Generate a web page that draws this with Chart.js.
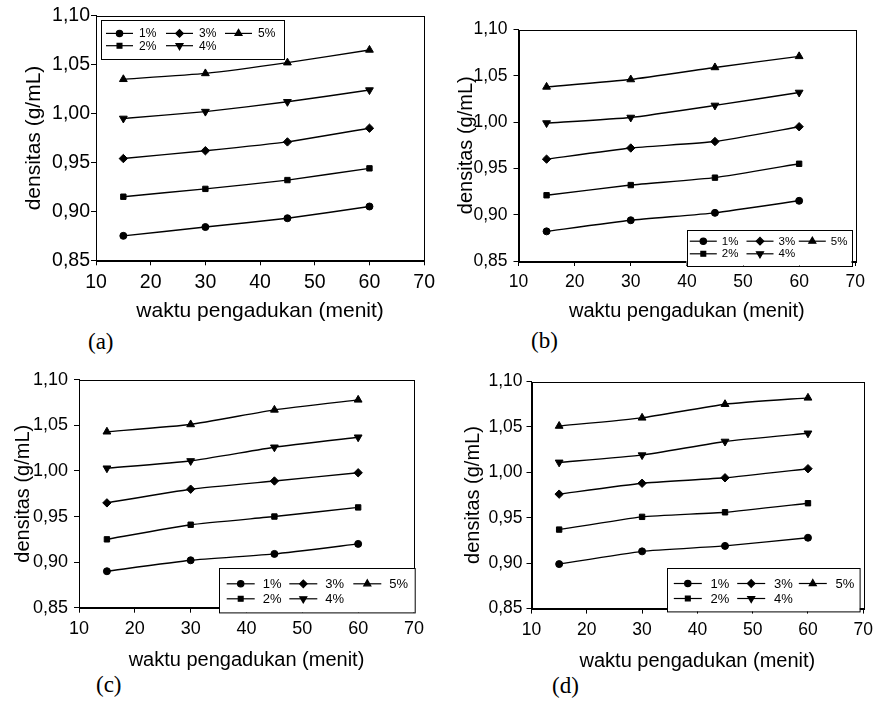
<!DOCTYPE html>
<html><head><meta charset="utf-8">
<script src="https://cdn.jsdelivr.net/npm/chart.js@4.4.0/dist/chart.umd.min.js"></script>
<style>
html,body{margin:0;padding:0;background:#fff}
body{width:875px;height:702px;position:relative;overflow:hidden}
canvas{position:absolute}
.lab{position:absolute;font-family:"Liberation Serif","Times New Roman",serif;font-size:23px;line-height:24px;color:#000}
</style></head><body>
<div class="lab" style="left:88px;top:330px">(a)</div>
<div class="lab" style="left:531px;top:329px">(b)</div>
<div class="lab" style="left:96px;top:673px">(c)</div>
<div class="lab" style="left:552px;top:674px">(d)</div>
<canvas id="cA"></canvas><canvas id="cB"></canvas><canvas id="cC"></canvas><canvas id="cD"></canvas>
<script>
// ---- data ----
const xValues = [15, 30, 45, 60];
const seriesLabels = ['1%', '2%', '3%', '4%', '5%'];
const xTickValues = [10, 20, 30, 40, 50, 60, 70];
const yTickValues = [0.85, 0.90, 0.95, 1.00, 1.05, 1.10];
const xTitle = 'waktu pengadukan (menit)';
const yTitle = 'densitas (g/mL)';

const a1 = [0.875, 0.884, 0.893, 0.905];
const a2 = [0.915, 0.923, 0.932, 0.944];
const a3 = [0.954, 0.962, 0.971, 0.985];
const a4 = [0.995, 1.002, 1.012, 1.024];
const a5 = [1.035, 1.041, 1.052, 1.065];

const b1 = [0.882, 0.894, 0.902, 0.915];
const b2 = [0.921, 0.932, 0.940, 0.955];
const b3 = [0.960, 0.972, 0.979, 0.995];
const b4 = [0.999, 1.005, 1.018, 1.032];
const b5 = [1.038, 1.046, 1.059, 1.071];

const c1 = [0.890, 0.902, 0.909, 0.920];
const c2 = [0.925, 0.941, 0.950, 0.960];
const c3 = [0.965, 0.980, 0.989, 0.998];
const c4 = [1.003, 1.011, 1.026, 1.037];
const c5 = [1.043, 1.051, 1.067, 1.078];

const d1 = [0.899, 0.913, 0.919, 0.928];
const d2 = [0.937, 0.951, 0.956, 0.966];
const d3 = [0.976, 0.988, 0.994, 1.004];
const d4 = [1.011, 1.019, 1.034, 1.043];
const d5 = [1.051, 1.060, 1.075, 1.082];

// ---- styles ----
const FONT = '"Liberation Sans", Arial, sans-serif';
const markers = [
  {pointStyle: 'circle', rotation: 0, radius: 3.5},
  {pointStyle: 'rect', rotation: 0, radius: 3.8},
  {pointStyle: 'rectRot', rotation: 0, radius: 4.2},
  {pointStyle: 'triangle', rotation: 180, radius: 4.5},
  {pointStyle: 'triangle', rotation: 0, radius: 4.5}
];

const legendPlugin = {
  id: 'boxLegend',
  afterDraw(chart, args, opts) {
    const ctx = chart.ctx, ca = chart.chartArea;
    const bx = ca.left + opts.dx, by = ca.top + opts.dy;
    ctx.save();
    ctx.fillStyle = '#fff';
    ctx.fillRect(bx, by, opts.w, opts.h);
    ctx.strokeStyle = '#000'; ctx.lineWidth = 1;
    ctx.strokeRect(Math.round(bx) + 0.5, Math.round(by) + 0.5, opts.w, opts.h);
    ctx.font = opts.fontSize + 'px ' + FONT;
    ctx.textBaseline = 'middle'; ctx.fillStyle = '#000';
    chart.data.datasets.forEach((ds, i) => {
      const col = Math.floor(i / 2), row = i % 2;
      const x0 = bx + opts.cols[col], y0 = by + opts.rows[row];
      ctx.beginPath(); ctx.lineWidth = 1.2; ctx.strokeStyle = '#000';
      ctx.moveTo(x0, y0); ctx.lineTo(x0 + opts.lineLen, y0); ctx.stroke();
      ctx.fillStyle = '#000';
      Chart.helpers.drawPoint(ctx, {pointStyle: ds.pointStyle, rotation: ds.pointRotation, radius: ds.pointRadius * 0.9, borderWidth: 1}, x0 + opts.lineLen / 2, y0);
      ctx.fillStyle = '#000';
      ctx.fillText(ds.label, x0 + opts.textOff, y0 + 0.5);
    });
    ctx.restore();
  }
};
const framePlugin = {
  id: 'frame',
  afterDatasetsDraw(chart) {
    const ctx = chart.ctx, ca = chart.chartArea;
    ctx.save(); ctx.strokeStyle = '#000'; ctx.lineWidth = 1;
    ctx.strokeRect(Math.round(ca.left) + 0.5, Math.round(ca.top) + 0.5, Math.round(ca.right - ca.left), Math.round(ca.bottom - ca.top));
    ctx.restore();
  }
};

function makePanel(id, series, p) {
  const PT = 12, PR = 15;
  const plotW = p.R - p.L, plotH = p.B - p.T;
  const W = Math.round(p.YW + plotW + PR), H = Math.round(PT + plotH + p.XH);
  const cv = document.getElementById(id);
  cv.width = W; cv.height = H;
  cv.style.width = W + 'px'; cv.style.height = H + 'px';
  cv.style.left = (p.L - p.YW) + 'px'; cv.style.top = (p.T - PT) + 'px';
  new Chart(cv, {
    type: 'line',
    data: {
      datasets: series.map((vals, i) => ({
        label: seriesLabels[i],
        data: xValues.map((x, k) => ({x: x, y: vals[k]})),
        borderColor: '#000', backgroundColor: '#000', borderWidth: 1.4,
        pointStyle: markers[i].pointStyle, pointRotation: markers[i].rotation,
        pointRadius: markers[i].radius, pointBorderWidth: 1,
        pointBackgroundColor: '#000', pointBorderColor: '#000',
        tension: 0.15, fill: false
      }))
    },
    options: {
      responsive: false, animation: false, devicePixelRatio: 1,
      layout: {padding: {top: PT, right: PR, left: 0, bottom: 0}},
      plugins: {legend: {display: false}, tooltip: {enabled: false},
        boxLegend: p.legend},
      scales: {
        x: {
          type: 'linear', min: 10, max: 70,
          afterBuildTicks: s => { s.ticks = xTickValues.map(v => ({value: v})); },
          afterFit: s => { s.height = p.XH; },
          ticks: {color: '#000', font: {family: FONT, size: p.tick}, padding: 6, maxRotation: 0, autoSkip: false},
          grid: {drawOnChartArea: false, drawTicks: true, tickLength: 5, color: '#000', lineWidth: 1},
          border: {display: true, color: '#000', width: 1},
          title: {display: true, text: xTitle, color: '#000', font: {family: FONT, size: p.title}, padding: 0}
        },
        y: {
          type: 'linear', min: 0.85, max: 1.10,
          afterBuildTicks: s => { s.ticks = yTickValues.map(v => ({value: v})); },
          afterFit: s => { s.width = p.YW; },
          ticks: {color: '#000', font: {family: FONT, size: p.tick}, padding: p.ypad, autoSkip: false,
            callback: v => v.toFixed(2).replace('.', ',')},
          grid: {drawOnChartArea: false, drawTicks: true, tickLength: 5, color: '#000', lineWidth: 1},
          border: {display: true, color: '#000', width: 1},
          title: {display: true, text: yTitle, color: '#000', font: {family: FONT, size: p.title}, padding: 0}
        }
      }
    },
    plugins: [framePlugin, legendPlugin]
  });
}

makePanel('cA', [a1, a2, a3, a4, a5], {L: 96, T: 15, R: 426, B: 260, YW: 74, XH: 63.7, ypad: 1, tick: 19.5, title: 21,
  legend: {dx: 4.7, dy: 4.3, w: 183, h: 39, cols: [5.3, 65.3, 124.3], rows: [13.4, 25.7], lineLen: 27, textOff: 33, fontSize: 12}});
makePanel('cB', [b1, b2, b3, b4, b5], {L: 518, T: 25, R: 855, B: 261, YW: 64.5, XH: 62, ypad: 6, tick: 17.5, title: 20,
  legend: {dx: 168, dy: 200, w: 165, h: 36, cols: [3.3, 60, 112.3], rows: [11.7, 24.3], lineLen: 27, textOff: 32, fontSize: 11.5}});
makePanel('cC', [c1, c2, c3, c4, c5], {L: 79, T: 375, R: 415, B: 608, YW: 68, XH: 64.3, ypad: 6, tick: 18, title: 20,
  legend: {dx: 140.3, dy: 188.3, w: 195.7, h: 44.4, cols: [7.4, 70, 134], rows: [15.7, 30.7], lineLen: 28, textOff: 36, fontSize: 13}});
makePanel('cD', [d1, d2, d3, d4, d5], {L: 531, T: 379, R: 863, B: 609, YW: 70.5, XH: 64.4, ypad: 4, tick: 17.5, title: 20,
  legend: {dx: 135.7, dy: 186.6, w: 192.6, h: 43.4, cols: [6.6, 70, 131.6], rows: [15.4, 30.4], lineLen: 28, textOff: 36.7, fontSize: 13}});
</script>
</body></html>
